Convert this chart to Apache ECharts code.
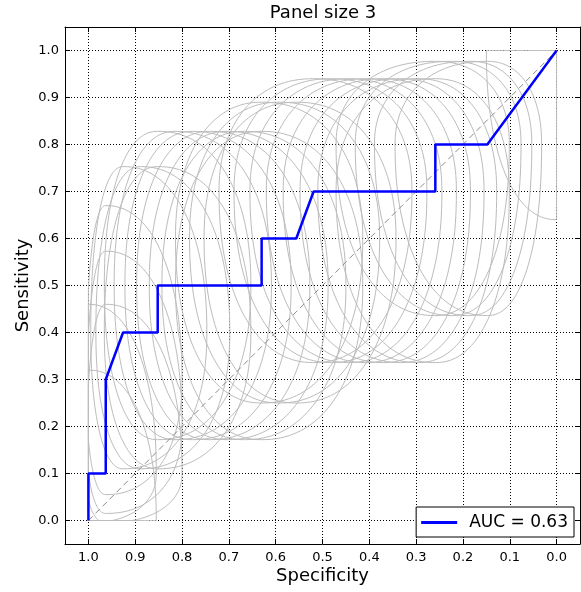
<!DOCTYPE html>
<html>
<head>
<meta charset="utf-8">
<title>Panel size 3</title>
<script src="https://cdn.jsdelivr.net/npm/echarts@6/dist/echarts.min.js"></script>
<style>
  html, body { margin: 0; padding: 0; background: #fff; }
  #main { width: 581px; height: 592px; }
</style>
</head>
<body>
<div id="main"></div>
<script>
// ROC curve (blue); specificity runs from 1.0 on the left down to 0.0
const rocSpec = [1.0, 1.0, 0.963, 0.963, 0.926, 0.852, 0.852, 0.630, 0.630, 0.556, 0.519, 0.259, 0.259, 0.148, 0.0];
const rocSens = [0.0, 0.1, 0.1, 0.3, 0.4, 0.4, 0.5, 0.5, 0.6, 0.6, 0.7, 0.7, 0.8, 0.8, 1.0];

// grey uncertainty regions, one per operating point
const regionSpec = [1.0, 1.0, 0.963, 0.963, 0.963, 0.926, 0.889, 0.852,
  0.852, 0.815, 0.778, 0.741, 0.704, 0.667, 0.630,
  0.630, 0.593, 0.556,
  0.519, 0.481, 0.444, 0.407, 0.370, 0.333, 0.296, 0.259,
  0.259, 0.222, 0.185, 0.148, 0.0];
const regionSens = [0.0, 0.1, 0.1, 0.2, 0.3, 0.4, 0.4, 0.4,
  0.5, 0.5, 0.5, 0.5, 0.5, 0.5, 0.5,
  0.6, 0.6, 0.6,
  0.7, 0.7, 0.7, 0.7, 0.7, 0.7, 0.7, 0.7,
  0.8, 0.8, 0.8, 0.8, 1.0];
// [high, low] specificity reach of each region
const regionSpecRange = [[1.145, 0.855], [1.145, 0.855], [1.005, 0.80], [1.005, 0.80], [1.005, 0.80],
  [0.995, 0.747], [0.984, 0.698], [0.966, 0.653],
  [0.966, 0.653], [0.945, 0.609], [0.922, 0.567], [0.897, 0.527], [0.870, 0.488], [0.843, 0.450], [0.814, 0.414],
  [0.814, 0.414], [0.784, 0.378], [0.753, 0.343],
  [0.721, 0.309], [0.689, 0.277], [0.655, 0.245], [0.620, 0.214], [0.584, 0.184], [0.548, 0.155], [0.510, 0.128], [0.471, 0.101],
  [0.471, 0.101], [0.430, 0.076], [0.389, 0.053], [0.345, 0.032],
  [0.15, -0.15]];
// [low, high] sensitivity reach of each region
const regionSensRange = [[-0.32, 0.32], [-0.005, 0.46], [-0.005, 0.46], [0.015, 0.573], [0.055, 0.67],
  [0.11, 0.753], [0.11, 0.753], [0.11, 0.753],
  [0.172, 0.828], [0.172, 0.828], [0.172, 0.828], [0.172, 0.828], [0.172, 0.828], [0.172, 0.828], [0.172, 0.828],
  [0.25, 0.89], [0.25, 0.89], [0.25, 0.89],
  [0.336, 0.94], [0.336, 0.94], [0.336, 0.94], [0.336, 0.94], [0.336, 0.94], [0.336, 0.94], [0.336, 0.94], [0.336, 0.94],
  [0.436, 0.977], [0.436, 0.977], [0.436, 0.977], [0.436, 0.977],
  [0.64, 1.36]];

const chanceLine = [[1, 0], [0, 1]];
const tickValues = [0, 0.1, 0.2, 0.3, 0.4, 0.5, 0.6, 0.7, 0.8, 0.9, 1.0];
const aucLabel = 'AUC = 0.63';

const FONT = 'DejaVu Sans';
const ROUND = 2.2; // superellipse exponent of the grey outlines

const chartDom = document.getElementById('main');
const myChart = echarts.init(chartDom);

const clamp = (v, a, b) => Math.min(Math.max(v, Math.min(a, b)), Math.max(a, b));

function renderRegion(params, api) {
  const c = api.coord([api.value(0), api.value(1)]);
  const lt = api.coord([api.value(2), api.value(5)]);
  const rb = api.coord([api.value(3), api.value(4)]);
  const p0 = api.coord([1, 1]);
  const p1 = api.coord([0, 0]);
  const pts = [];
  const steps = 160;
  for (let i = 0; i <= steps; i++) {
    const t = i / steps * 2 * Math.PI;
    const ct = Math.cos(t), st = Math.sin(t);
    const rx = ct >= 0 ? rb[0] - c[0] : c[0] - lt[0];
    const ry = st >= 0 ? c[1] - lt[1] : rb[1] - c[1];
    const x = c[0] + rx * Math.sign(ct) * Math.pow(Math.abs(ct), 2 / ROUND);
    const y = c[1] - ry * Math.sign(st) * Math.pow(Math.abs(st), 2 / ROUND);
    pts.push([clamp(x, p0[0], p1[0]), clamp(y, p0[1], p1[1])]);
  }
  return {
    type: 'polygon',
    shape: { points: pts },
    style: { fill: 'none', stroke: '#bcbcbc', lineWidth: 1 },
    silent: true
  };
}

const regionData = regionSpec.map((s, i) => [
  s, regionSens[i],
  regionSpecRange[i][0], regionSpecRange[i][1],
  regionSensRange[i][0], regionSensRange[i][1]
]);

const axisCommon = {
  type: 'value',
  min: -0.05,
  max: 1.05,
  axisLine: { show: true, onZero: false, lineStyle: { color: '#000', width: 1 } },
  axisTick: { show: true, inside: true, length: 5, customValues: tickValues, lineStyle: { color: '#000' } },
  splitLine: { show: false }
};

const option = {
  animation: false,
  backgroundColor: '#fff',
  title: {
    text: 'Panel size 3',
    left: 323,
    top: 4,
    textAlign: 'center',
    padding: 0,
    textStyle: { fontFamily: FONT, fontSize: 18, fontWeight: 'normal', color: '#000' }
  },
  legend: {
    data: [{ name: aucLabel, icon: 'rect' }],
    right: 7,
    bottom: 55,
    padding: [7, 6, 6, 5],
    borderColor: '#000',
    borderWidth: 1,
    borderRadius: 0,
    backgroundColor: '#fff',
    itemWidth: 36,
    itemHeight: 3,
    textStyle: { fontFamily: FONT, fontSize: 17, color: '#000', padding: [0, 0, 0, 7] }
  },
  grid: { left: 65, top: 27, width: 515, height: 517 },
  xAxis: [
    Object.assign({}, axisCommon, {
      position: 'bottom',
      inverse: true,
      name: 'Specificity',
      nameLocation: 'middle',
      nameGap: 23,
      nameMoveOverlap: false,
      nameTextStyle: { fontFamily: FONT, fontSize: 18, color: '#000' },
      axisLabel: {
        customValues: tickValues, margin: 7,
        formatter: v => v.toFixed(1),
        fontFamily: FONT, fontSize: 13, color: '#000'
      },
      splitLine: { show: true, lineStyle: { color: '#000', width: 1, type: [1, 2] } }
    }),
    Object.assign({}, axisCommon, { position: 'top', inverse: true, axisLabel: { show: false } })
  ],
  yAxis: [
    Object.assign({}, axisCommon, {
      position: 'left',
      name: 'Sensitivity',
      nameLocation: 'middle',
      nameGap: 33,
      nameMoveOverlap: false,
      nameTextStyle: { fontFamily: FONT, fontSize: 18, color: '#000' },
      axisLabel: {
        customValues: tickValues, margin: 6,
        formatter: v => v.toFixed(1),
        fontFamily: FONT, fontSize: 13, color: '#000'
      },
      splitLine: { show: true, lineStyle: { color: '#000', width: 1, type: [1, 2] } }
    }),
    Object.assign({}, axisCommon, { position: 'right', axisLabel: { show: false } })
  ],
  series: [
    {
      name: 'regions',
      type: 'custom',
      xAxisIndex: 0,
      yAxisIndex: 0,
      renderItem: renderRegion,
      encode: { x: [0, 2, 3], y: [1, 4, 5] },
      data: regionData,
      silent: true,
      z: 1
    },
    {
      name: 'chance',
      type: 'line',
      data: chanceLine,
      symbol: 'none',
      silent: true,
      lineStyle: { color: '#8c8c8c', width: 1, type: [6, 4] },
      z: 2
    },
    {
      name: aucLabel,
      type: 'line',
      data: rocSpec.map((s, i) => [s, rocSens[i]]),
      symbol: 'none',
      color: '#0000ff',
      lineStyle: { color: '#0000ff', width: 2.5 },
      z: 3
    }
  ]
};

myChart.setOption(option);
</script>
</body>
</html>
